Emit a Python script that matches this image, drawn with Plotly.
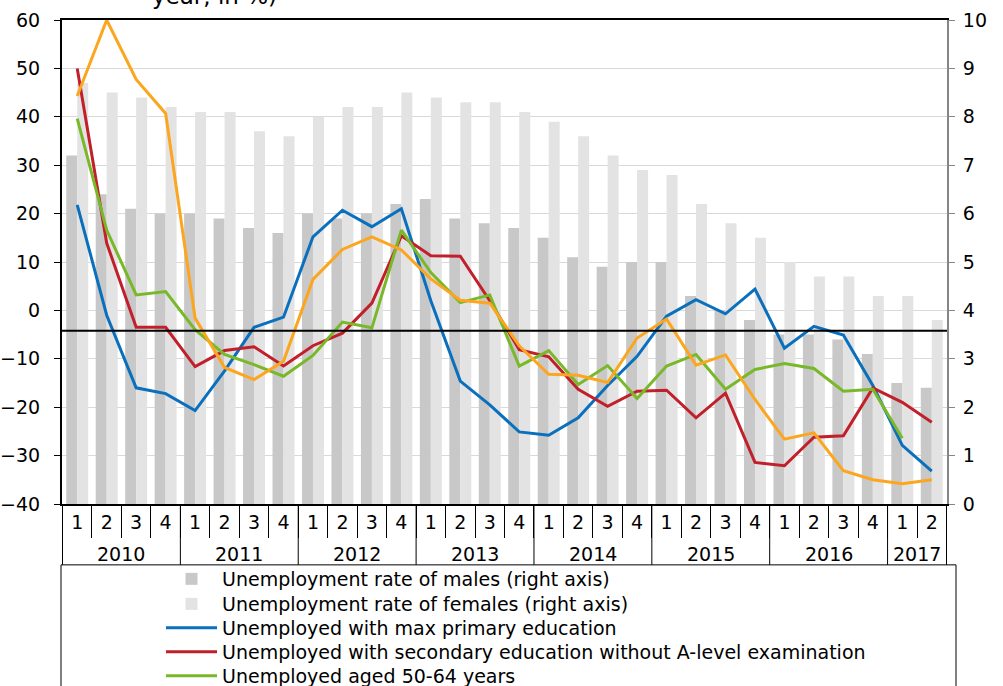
import plotly.graph_objects as go

# ---------------- data ----------------
years = ["2010"] * 4 + ["2011"] * 4 + ["2012"] * 4 + ["2013"] * 4 + \
        ["2014"] * 4 + ["2015"] * 4 + ["2016"] * 4 + ["2017"] * 2
quarters = ["1", "2", "3", "4"] * 7 + ["1", "2"]

males = [7.2, 6.4, 6.1, 6.0, 6.0, 5.9, 5.7, 5.6, 6.0, 5.9, 6.0, 6.2, 6.3, 5.9, 5.8,
         5.7, 5.5, 5.1, 4.9, 5.0, 5.0, 4.3, 4.0, 3.8, 3.5, 3.5, 3.4, 3.1, 2.5, 2.4]
females = [8.7, 8.5, 8.4, 8.2, 8.1, 8.1, 7.7, 7.6, 8.0, 8.2, 8.2, 8.5, 8.4, 8.3, 8.3,
           8.1, 7.9, 7.6, 7.2, 6.9, 6.8, 6.2, 5.8, 5.5, 5.0, 4.7, 4.7, 4.3, 4.3, 3.8]

primary_edu = [21.8, -1.0, -16.0, -17.2, -20.7, -12.5, -3.5, -1.4, 15.2, 20.7, 17.3, 21.0,
               2.0, -14.6, -19.5, -25.1, -25.8, -22.2, -15.5, -9.5, -1.2, 2.2, -0.7, 4.4,
               -7.8, -3.3, -5.1, -15.5, -27.9, -33.2]
secondary_edu = [50.0, 13.9, -3.5, -3.5, -11.6, -8.3, -7.5, -11.5, -7.3, -4.7, 1.5, 15.4,
                 11.3, 11.2, 2.0, -8.1, -9.6, -16.3, -19.8, -16.7, -16.5, -22.2, -17.1, -31.4,
                 -32.1, -26.2, -25.9, -16.0, -19.0, -23.1]
aged_50_64 = [39.6, 16.6, 3.2, 3.9, -4.0, -9.1, -11.2, -13.6, -9.3, -2.4, -3.6, 16.6,
              7.8, 1.6, 3.2, -11.5, -8.3, -15.3, -11.4, -18.2, -11.5, -9.1, -16.3, -12.2,
              -11.0, -12.0, -16.7, -16.3, -26.4, None]
youth = [44.3, 60.0, 47.7, 40.7, -1.6, -11.8, -14.3, -10.5, 6.4, 12.6, 15.2, 12.5,
         6.5, 2.1, 1.5, -7.3, -13.2, -13.4, -14.9, -5.7, -1.8, -11.3, -9.2, -18.4,
         -26.6, -25.3, -33.1, -35.0, -35.8, -35.0]

REF_LEVEL = -4.2   # horizontal reference line (left axis)

names = [
    "Unemployment rate of males (right axis)",
    "Unemployment rate of females (right axis)",
    "Unemployed with max primary education",
    "Unemployed with secondary education without A-level examination",
    "Unemployed aged 50-64 years",
    "Unemployed aged 15-24 years",
]
title_tail = "year, in %)"

FONT = "DejaVu Sans"
FS = 19

# ---------------- layout helpers (pixels -> paper) ----------------
W, H = 1003, 730
ML, MR, MT = 62, 56, 20
PLOT_BOTTOM = 505
MB = H - PLOT_BOTTOM
PW = W - ML - MR
PH = PLOT_BOTTOM - MT


def px_x(p):
    return (p - ML) / PW


def px_y(p):
    return (PLOT_BOTTOM - p) / PH


cats = [f"{y}-Q{q}" for y, q in zip(years, quarters)]

fig = go.Figure()
fig.add_trace(go.Bar(x=cats, y=males, name=names[0], marker_color="#c8c8c8",
                     marker_line_width=0, yaxis="y", legend="legend"))
fig.add_trace(go.Bar(x=cats, y=females, name=names[1], marker_color="#e3e3e3",
                     marker_line_width=0, yaxis="y", legend="legend2"))

line_specs = [
    (primary_edu, names[2], "#0a70bd", "legend3"),
    (secondary_edu, names[3], "#c1202b", "legend4"),
    (aged_50_64, names[4], "#79b829", "legend5"),
    (youth, names[5], "#fba61e", "legend6"),
]
for vals, nm, col, lg in line_specs:
    fig.add_trace(go.Scatter(x=cats, y=vals, name=nm, mode="lines",
                             line=dict(color=col, width=3), yaxis="y2", legend=lg))

row_centers = [579, 604, 628, 652, 676, 700]
legend_defs = {}
for i, rc in enumerate(row_centers):
    key = "legend" if i == 0 else f"legend{i + 1}"
    legend_defs[key] = dict(x=px_x(161), xanchor="left", y=px_y(rc), yanchor="middle",
                            bgcolor="rgba(0,0,0,0)", borderwidth=0, itemwidth=51,
                            font=dict(family=FONT, size=FS, color="black"))

fig.update_layout(
    template="none",
    width=W, height=H,
    margin=dict(l=ML, r=MR, t=MT, b=MB, pad=0),
    paper_bgcolor="white", plot_bgcolor="white",
    font=dict(family=FONT, size=FS, color="black"),
    barmode="group", bargap=0.254, bargroupgap=0,
    showlegend=True,
    xaxis=dict(type="category", categoryorder="array", categoryarray=cats,
               tickmode="array", tickvals=cats, ticktext=quarters,
               showline=True, linecolor="black", linewidth=2,
               mirror=True, ticks="outside", tickson="boundaries", ticklen=32,
               tickcolor="black", tickwidth=1, showgrid=False, zeroline=False,
               automargin=False, ticklabelstandoff=0,
               tickfont=dict(family=FONT, size=FS, color="black")),
    yaxis=dict(range=[0, 10], dtick=1, side="right", showgrid=True, gridcolor="#d9d9d9",
               gridwidth=1, showline=True, linecolor="#868686", linewidth=2,
               ticks="outside", ticklen=6, tickcolor="#868686", zeroline=False,
               automargin=False, ticklabelstandoff=4,
               tickfont=dict(family=FONT, size=FS, color="black")),
    yaxis2=dict(range=[-40, 60], dtick=10, side="left", overlaying="y", showgrid=False,
                showline=True, linecolor="black", linewidth=2, ticks="outside",
                ticklen=6, tickcolor="black", zeroline=False, automargin=False,
                ticklabelstandoff=10,
                tickfont=dict(family=FONT, size=FS, color="black")),
    **legend_defs,
)

# year group labels and dividers (positions derived from the category index)
year_order = list(dict.fromkeys(years))
for yr in year_order:
    idx = [i for i, v in enumerate(years) if v == yr]
    fig.add_annotation(text=yr, xref="x", yref="paper", x=sum(idx) / len(idx),
                       y=px_y(555), xanchor="center", yanchor="middle", showarrow=False,
                       font=dict(family=FONT, size=FS, color="black"))
    fig.add_shape(type="line", xref="x", yref="paper", x0=idx[0] - 0.5, x1=idx[0] - 0.5,
                  y0=0, y1=px_y(566), line=dict(color="black", width=1), layer="above")
fig.add_shape(type="line", xref="x", yref="paper", x0=len(years) - 0.5, x1=len(years) - 0.5,
              y0=0, y1=px_y(566), line=dict(color="black", width=1), layer="above")

# reference line
fig.add_shape(type="line", xref="x domain", x0=0, x1=1, yref="y2", y0=REF_LEVEL, y1=REF_LEVEL,
              line=dict(color="black", width=2), layer="above")
# legend frame
fig.add_shape(type="rect", xref="paper", yref="paper", x0=px_x(61), x1=px_x(956),
              y0=px_y(566), y1=px_y(H + 20), line=dict(color="black", width=1),
              fillcolor="rgba(0,0,0,0)", layer="above")

# title (only its last line is visible at the top edge)
fig.add_annotation(text=title_tail, xref="paper", yref="paper", x=px_x(150), y=px_y(11),
                   xanchor="left", yanchor="bottom", showarrow=False, align="left",
                   font=dict(family=FONT, size=23, color="black"))

fig.write_html("out.html", config={"displayModeBar": False},
               post_script="document.body.style.margin='0';document.body.style.overflow='hidden';")
